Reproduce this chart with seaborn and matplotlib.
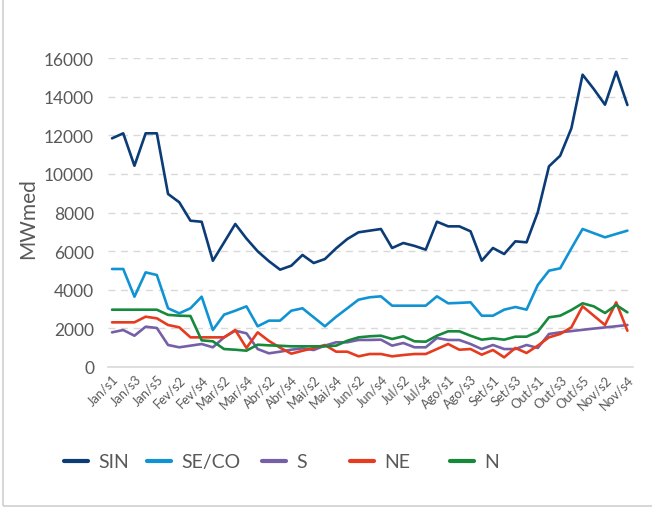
import matplotlib
matplotlib.use("Agg")
import matplotlib.pyplot as plt
import seaborn as sns
import pandas as pd
from matplotlib.patches import Rectangle

# weekly labels (Jan/s1 ... Nov/s4)
month_weeks = [("Jan", 5), ("Fev", 4), ("Mar", 4), ("Abr", 4), ("Mai", 4), ("Jun", 4),
               ("Jul", 5), ("Ago", 4), ("Set", 4), ("Out", 5), ("Nov", 4)]
weeks = [f"{m}/s{i}" for m, n in month_weeks for i in range(1, n + 1)]

sin = [11840, 12100, 10420, 12100, 12100, 8960, 8530, 7575, 7520, 5500,
       6450, 7405, 6650, 5990, 5480, 5040, 5245, 5800, 5385, 5590,
       6145, 6628, 6975, 7060, 7146, 6162, 6420, 6270, 6075, 7525,
       7283, 7283, 7025, 5505, 6162, 5850, 6507, 6455, 8010, 10390,
       10940, 12360, 15136, 14394, 13582, 15290, 13566]
seco = [5075, 5075, 3640, 4900, 4763, 3040, 2780, 3040, 3640, 1915,
        2710, 2915, 3140, 2107, 2400, 2400, 2915, 3040, 2572, 2107,
        2600, 3040, 3485, 3610, 3660, 3175, 3175, 3175, 3175, 3660,
        3298, 3320, 3350, 2657, 2657, 2967, 3107, 2970, 4246, 4987,
        5110, 6145, 7146, 6930, 6715, 6890, 7060]
s = [1794, 1915, 1620, 2087, 2020, 1140, 1020, 1105, 1190, 1020,
     1535, 1880, 1743, 930, 708, 793, 895, 965, 880, 1105,
     1280, 1280, 1400, 1400, 1415, 1105, 1243, 1020, 1020, 1500,
     1398, 1398, 1190, 930, 1140, 930, 930, 1140, 985, 1710,
     1794, 1860, 1925, 1990, 2050, 2110, 2175]
ne = [2313, 2313, 2313, 2605, 2520, 2175, 2055, 1535, 1535, 1535,
      1535, 1915, 985, 1794, 1350, 1000, 690, 840, 980, 1140,
      793, 793, 553, 673, 673, 553, 620, 673, 673, 930,
      1190, 895, 930, 637, 880, 500, 985, 725, 1105, 1535,
      1710, 2055, 3140, 2657, 2175, 3350, 1880]
n = [2967, 2967, 2967, 2967, 2967, 2700, 2657, 2640, 1380, 1330,
     930, 895, 845, 1155, 1120, 1100, 1070, 1070, 1070, 1070,
     1105, 1360, 1535, 1590, 1620, 1450, 1590, 1330, 1310, 1620,
     1848, 1848, 1620, 1415, 1485, 1415, 1570, 1570, 1830, 2572,
     2657, 2950, 3298, 3140, 2796, 3210, 2830]

series = {"SIN": sin, "SE/CO": seco, "S": s, "NE": ne, "N": n}
colors = {"SIN": "#0B3C78", "SE/CO": "#1093D3", "S": "#7560A8", "NE": "#E63B1E", "N": "#16893C"}

df = pd.DataFrame([(i, k, v) for k, vals in series.items() for i, v in enumerate(vals)],
                  columns=["idx", "regiao", "MWmed"])

sns.set_theme(style="white")
plt.rcParams["font.family"] = ["Lato", "DejaVu Sans"]
grey = "#595959"

fig = plt.figure(figsize=(6.52, 5.10), dpi=100)
ax = fig.add_axes([108 / 652, 1 - 368 / 510, (633 - 108) / 652, (368 - 59) / 510])

sns.lineplot(data=df, x="idx", y="MWmed", hue="regiao", palette=colors,
             hue_order=list(series.keys()), linewidth=1.9, ax=ax, legend=True)

ax.set_ylim(0, 16000)
ax.set_xlim(-0.36, 46.5)
ax.set_yticks(range(0, 16001, 2000))
ax.tick_params(axis="y", labelsize=12.5, labelcolor=grey, length=0, pad=10)
ax.set_xticks(range(0, len(weeks), 2))
ax.set_xticklabels(weeks[::2], rotation=45, ha="right", rotation_mode="anchor")
ax.tick_params(axis="x", labelsize=9.2, labelcolor=grey, length=0, pad=4)

ax.yaxis.grid(True, color="#D9D9D9", linestyle=(0, (5, 4)), linewidth=1)
ax.set_axisbelow(True)
for sp in ["top", "right", "left"]:
    ax.spines[sp].set_visible(False)
ax.spines["bottom"].set_color("#D9D9D9")
ax.spines["bottom"].set_linewidth(1.2)
for line in ax.lines:
    line.set_clip_on(False)

ax.set_xlabel("")
ax.set_ylabel("MWmed", fontsize=15, color=grey)
ax.yaxis.set_label_coords(-0.133, 0.485)

handles, labels = ax.get_legend_handles_labels()
ax.get_legend().remove()
legend_x = [64, 147, 262, 350, 450]
for h, lab, x in zip(handles, labels, legend_x):
    h.set_linewidth(3)
    h.set_solid_capstyle("round")
    fig.legend([h], [lab], loc="center left", bbox_to_anchor=(x / 652, 1 - 463 / 510),
               frameon=False, fontsize=14, labelcolor=grey, handlelength=1.25,
               handletextpad=0.5, borderpad=0, borderaxespad=0)

# light frame around the chart
fig.patches.append(Rectangle((3 / 652, 3 / 510), 1.2, 1.2, transform=fig.transFigure,
                             fill=False, edgecolor="#D0D0D0", linewidth=1.2))

fig.savefig("out.png", dpi=100)
